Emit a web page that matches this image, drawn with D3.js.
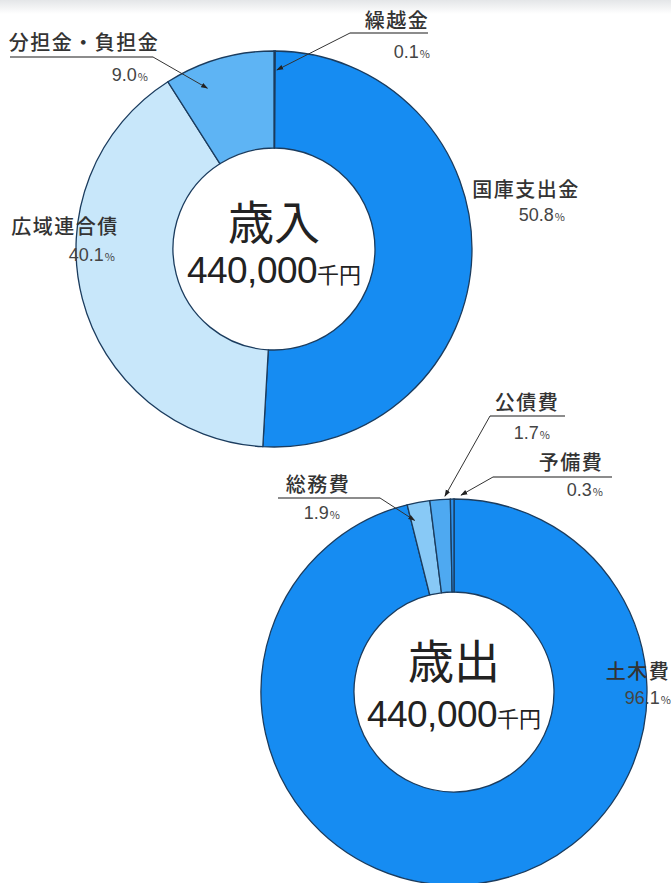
<!DOCTYPE html>
<html lang="ja">
<head>
<meta charset="utf-8">
<script src="https://cdn.jsdelivr.net/npm/d3@7"></script>
<style>
body { margin: 0; background: #fff; }
text { font-family: "Noto Sans CJK JP", sans-serif; fill: #333; }
</style>
</head>
<body>
<div id="chart-area"></div>
<script>
// 歳入
const inLabels = ["繰越金", "国庫支出金", "広域連合債", "分担金・負担金"];
const inValues = [0.1, 50.8, 40.1, 9.0];
// 歳出
const outLabels = ["土木費", "総務費", "公債費", "予備費"];
const outValues = [96.1, 1.9, 1.7, 0.3];
const titles = ["歳入", "歳出"];
const totals = ["440,000", "440,000"];
const unit = "千円";

const width = 671;
const height = 883;

const svg = d3.select("#chart-area")
    .append("svg")
    .attr("width", width)
    .attr("height", height);

// faint grey band at the top of the scan
const grad = svg.append("defs").append("linearGradient")
    .attr("id", "topfade").attr("x1", 0).attr("x2", 0).attr("y1", 0).attr("y2", 1);
grad.append("stop").attr("offset", "0%").attr("stop-color", "#e4e6e8");
grad.append("stop").attr("offset", "100%").attr("stop-color", "#fff");
svg.append("rect").attr("width", width).attr("height", 14).attr("fill", "url(#topfade)");

svg.select("defs").append("marker")
    .attr("id", "arrow")
    .attr("viewBox", "0 0 10 10")
    .attr("refX", 9).attr("refY", 5)
    .attr("markerWidth", 7).attr("markerHeight", 7)
    .attr("orient", "auto")
    .append("path")
    .attr("d", "M0,1.5L10,5L0,8.5Z")
    .attr("fill", "#222");

// label placement: name / percent position, underline, leader start, arrow tip
const donuts = [
    {
        cx: 274, cy: 249, r0: 101, r1: 198,
        labels: inLabels, values: inValues,
        colors: ["#2a8fe6", "#168cf2", "#c8e7fa", "#5eb4f4"],
        title: titles[0], total: totals[0],
        place: [
            { nx: 397, ny: 28, px: 430, py: 58, line: [350, 428, 33], from: [350, 33], tipR: 179, nudge: 0.013 },
            { nx: 526, ny: 197, px: 565, py: 221 },
            { nx: 65, ny: 234, px: 115, py: 261 },
            { nx: 84, ny: 50, px: 148, py: 81, line: [10, 153, 57], from: [153, 57], tipR: 174, nudge: -0.11 }
        ]
    },
    {
        cx: 454, cy: 692, r0: 100, r1: 193,
        labels: outLabels, values: outValues,
        colors: ["#168cf2", "#88c9f6", "#4ea9f1", "#2a90ee"],
        title: titles[1], total: totals[1],
        place: [
            { nx: 638, ny: 679, px: 671, py: 704 },
            { nx: 318, ny: 492, px: 340, py: 519, line: [278, 380, 498], from: [380, 498], tipR: 176, nudge: -0.04 },
            { nx: 527, ny: 410, px: 550, py: 439, line: [490, 565, 416], from: [490, 416], tipR: 196, nudge: 0.026 },
            { nx: 571, ny: 470, px: 603, py: 496, line: [493, 612, 477], from: [493, 477], tipR: 197, nudge: 0.045 }
        ]
    }
];

const pie = d3.pie()
    .value(d => d)
    .sort(null);

donuts.forEach(cfg => {
    const arc = d3.arc()
        .innerRadius(cfg.r0)
        .outerRadius(cfg.r1);

    const g = svg.append("g")
        .attr("transform", `translate(${cfg.cx}, ${cfg.cy})`);

    const arcs = pie(cfg.values);

    g.selectAll("path")
        .data(arcs)
        .enter().append("path")
        .attr("d", arc)
        .attr("fill", (d, i) => cfg.colors[i])
        .attr("stroke", "#1b3c5e")
        .attr("stroke-width", 1.3);

    // centre text
    g.append("text")
        .attr("text-anchor", "middle")
        .attr("y", cfg.cy < 400 ? -10 : -14)
        .attr("font-size", 46)
        .style("fill", "#222")
        .text(cfg.title);

    const tot = g.append("text")
        .attr("text-anchor", "middle")
        .attr("y", cfg.cy < 400 ? 34 : 35)
        .style("fill", "#222");
    tot.append("tspan")
        .attr("font-family", "'Liberation Sans', Arial, sans-serif")
        .attr("font-size", 37)
        .attr("letter-spacing", -0.5)
        .text(cfg.total);
    tot.append("tspan")
        .attr("font-size", 22)
        .text(unit);

    // labels
    arcs.forEach((d, i) => {
        const p = cfg.place[i];
        svg.append("text")
            .attr("x", p.nx).attr("y", p.ny)
            .attr("text-anchor", "middle")
            .attr("font-size", 20)
            .attr("letter-spacing", 1.5)
            .attr("font-weight", 500)
            .text(cfg.labels[i]);

        const pct = svg.append("text")
            .attr("x", p.px).attr("y", p.py)
            .attr("text-anchor", "end")
            .style("fill", "#444");
        pct.append("tspan")
            .attr("font-family", "'Liberation Sans', Arial, sans-serif")
            .attr("font-size", 18)
            .text(d3.format(".1f")(cfg.values[i]));
        pct.append("tspan")
            .attr("font-size", 11)
            .attr("dx", 1)
            .text("%");

        if (p.line) {
            svg.append("line")
                .attr("x1", p.line[0]).attr("x2", p.line[1])
                .attr("y1", p.line[2]).attr("y2", p.line[2])
                .attr("stroke", "#666")
                .attr("stroke-width", 1.6);
        }
        if (p.from) {
            const a = (d.startAngle + d.endAngle) / 2 + p.nudge;
            const tx = cfg.cx + p.tipR * Math.sin(a);
            const ty = cfg.cy - p.tipR * Math.cos(a);
            svg.append("line")
                .attr("x1", p.from[0]).attr("y1", p.from[1])
                .attr("x2", tx).attr("y2", ty)
                .attr("stroke", "#333")
                .attr("stroke-width", 1)
                .attr("marker-end", "url(#arrow)");
        }
    });
});
</script>
</body>
</html>
